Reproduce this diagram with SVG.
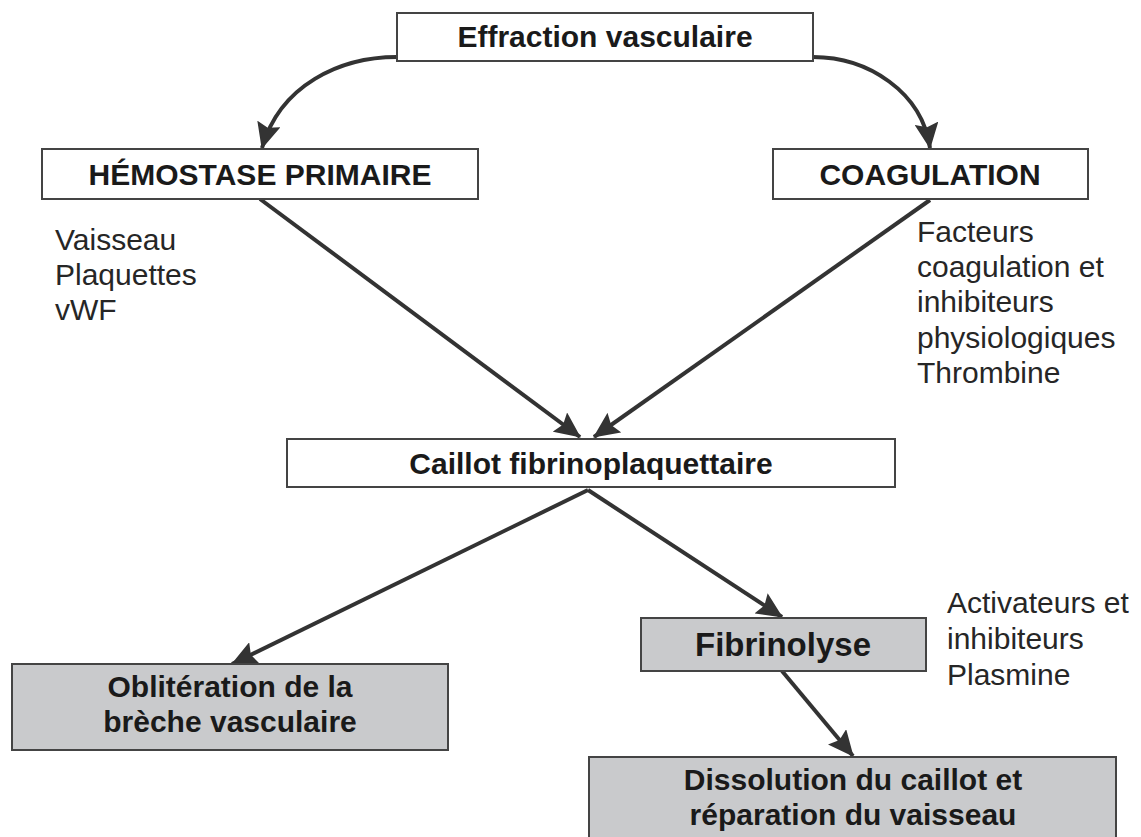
<svg xmlns="http://www.w3.org/2000/svg" width="1141" height="837" viewBox="0 0 1141 837">
<defs>
<style>
.box{fill:#ffffff;stroke:#444444;stroke-width:2}
.gbox{fill:#c9cacc;stroke:#444444;stroke-width:2}
.bt{font-family:"Liberation Sans",Arial,sans-serif;font-weight:bold;font-size:30px;fill:#1a1a1a;text-anchor:middle}
.nt{font-family:"Liberation Sans",Arial,sans-serif;font-size:30px;fill:#262626}
.cn{fill:none;stroke:#333333;stroke-width:4}
</style>
<marker id="ah" viewBox="0 0 26 24" refX="25" refY="12" markerWidth="26" markerHeight="24" markerUnits="userSpaceOnUse" orient="auto">
<path d="M0,0 L26,12 L0,24 L4,12 Z" fill="#333333"/>
</marker>
</defs>
<rect width="1141" height="837" fill="#ffffff"/>
<g id="connectors">
<path class="cn" marker-end="url(#ah)" d="M397,57 C340,57 280,85 262,148"/>
<path class="cn" marker-end="url(#ah)" d="M813,57 C868,57 922,92 930,148"/>
<path class="cn" marker-end="url(#ah)" d="M260,199 L580,437"/>
<path class="cn" marker-end="url(#ah)" d="M930,200 L594,437"/>
<path class="cn" marker-end="url(#ah)" d="M588,490 L232,664"/>
<path class="cn" marker-end="url(#ah)" d="M588,490 L782,617"/>
<path class="cn" marker-end="url(#ah)" d="M782,671 L853,756"/>
</g>
<g id="effraction">
<rect class="box" x="397" y="13" width="416" height="48"/>
<text class="bt" x="605" y="47">Effraction vasculaire</text>
</g>
<g id="hemostase">
<rect class="box" x="42" y="149" width="436" height="50"/>
<text class="bt" x="260" y="185">HÉMOSTASE PRIMAIRE</text>
</g>
<g id="coagulation">
<rect class="box" x="773" y="149" width="315" height="50"/>
<text class="bt" x="930" y="185">COAGULATION</text>
</g>
<g id="notes-hemostase">
<text class="nt" x="55" y="250">Vaisseau</text>
<text class="nt" x="55" y="285">Plaquettes</text>
<text class="nt" x="55" y="320">vWF</text>
</g>
<g id="notes-coagulation">
<text class="nt" x="917" y="242">Facteurs</text>
<text class="nt" x="917" y="277">coagulation et</text>
<text class="nt" x="917" y="312">inhibiteurs</text>
<text class="nt" x="917" y="348">physiologiques</text>
<text class="nt" x="917" y="383">Thrombine</text>
</g>
<g id="caillot">
<rect class="box" x="287" y="439" width="608" height="48"/>
<text class="bt" x="591" y="474">Caillot fibrinoplaquettaire</text>
</g>
<g id="obliteration">
<rect class="gbox" x="12" y="664" width="436" height="86"/>
<text class="bt" x="230" y="697">Oblitération de la</text>
<text class="bt" x="230" y="732">brèche vasculaire</text>
</g>
<g id="fibrinolyse">
<rect class="gbox" x="641" y="618" width="285" height="53"/>
<text class="bt" x="783" y="656" style="font-size:33px">Fibrinolyse</text>
</g>
<g id="notes-fibrinolyse">
<text class="nt" x="947" y="613">Activateurs et</text>
<text class="nt" x="947" y="649">inhibiteurs</text>
<text class="nt" x="947" y="685">Plasmine</text>
</g>
<g id="dissolution">
<rect class="gbox" x="589" y="757" width="527" height="84"/>
<text class="bt" x="853" y="790">Dissolution du caillot et</text>
<text class="bt" x="853" y="825">réparation du vaisseau</text>
</g>
</svg>
